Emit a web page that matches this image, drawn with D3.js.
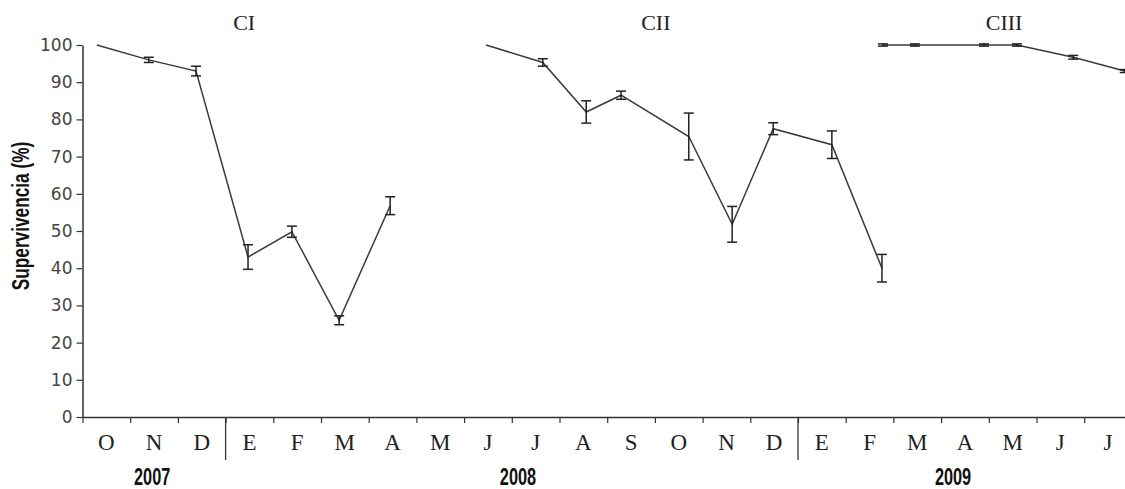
<!DOCTYPE html>
<html>
<head>
<meta charset="utf-8">
<script src="https://cdn.jsdelivr.net/npm/d3@7"></script>
<style>
  body { margin: 0; background: #fff; }
  svg { display: block; }
  .month { font-family: "Liberation Serif", "Times New Roman", serif; font-size: 23px; fill: #222; }
  .year { font-family: "Liberation Sans", Arial, sans-serif; font-weight: bold; font-size: 24px; fill: #111; }
  .ttl { font-family: "Liberation Serif", "Times New Roman", serif; font-size: 22px; fill: #222; }
  .ylab { font-family: "Liberation Sans", Arial, sans-serif; font-weight: bold; font-size: 23px; fill: #111; }
</style>
</head>
<body>
<div id="chart"></div>
<script>
var svgWidth = 1125;
var svgHeight = 489;

// month labels along the x axis (Oct 2007 .. Jul 2009)
var months = ["O", "N", "D", "E", "F", "M", "A", "M", "J", "J", "A", "S", "O", "N", "D", "E", "F", "M", "A", "M", "J", "J"];
var yearNames = ["2007", "2008", "2009"];
var yearAt = [0.96, 8.63, 17.75];      // month index under each year label
var yearBreaks = [3, 15];              // boundaries between years
var cycleNames = ["CI", "CII", "CIII"];
var cycleAt = [2.89, 11.52, 18.82];
var yTicks = [0, 10, 20, 30, 40, 50, 60, 70, 80, 90, 100];

// sampling time (month index), survival (%) and error
var ciX = [-0.2, 0.89, 1.88, 2.97, 3.89, 4.88, 5.95];
var ciY = [100, 96, 93, 43, 49.8, 26, 56.8];
var ciE = [0, 0.7, 1.3, 3.3, 1.5, 1.2, 2.4];

var ciiX = [7.96, 9.15, 10.06, 10.79, 12.21, 13.12, 13.98, 15.21, 16.26];
var ciiY = [100, 95.3, 82, 86.5, 75.4, 51.8, 77.5, 73.2, 40];
var ciiE = [0, 1, 3, 1.1, 6.3, 4.8, 1.6, 3.7, 3.7];

var ciiiX = [16.28, 16.95, 18.4, 19.09, 20.27, 21.35];
var ciiiY = [100, 100, 100, 100, 96.7, 93];
var ciiiE = [0.3, 0.3, 0.3, 0.3, 0.5, 0.4];

var left = 82.5, step = 47.7;
var y0 = 417, y100 = 45;

var svg = d3.select("#chart")
  .append("svg")
  .attr("width", svgWidth)
  .attr("height", svgHeight);

var x = d3.scaleLinear()
  .domain([-0.5, months.length - 0.5])
  .range([left, left + months.length * step]);

var y = d3.scaleLinear()
  .domain([0, 100])
  .range([y0, y100]);

// y axis
var yAxis = svg.append("g")
  .attr("transform", `translate(${left}, 0)`)
  .call(d3.axisLeft(y).tickValues(yTicks).tickSize(6).tickSizeOuter(0).tickPadding(4));
yAxis.select(".domain").attr("stroke", "#333").attr("stroke-width", 1.5);
yAxis.selectAll(".tick line").attr("stroke", "#333").attr("stroke-width", 1.2);
yAxis.selectAll("text")
  .attr("fill", "#444")
  .style("font-family", "'DejaVu Sans', sans-serif")
  .style("font-size", "17px");

// x axis: boundary ticks
var bounds = d3.range(0, months.length + 1).map(d => d - 0.5);
var xAxis = svg.append("g")
  .attr("transform", `translate(0, ${y0})`)
  .call(d3.axisBottom(x).tickValues(bounds).tickFormat("").tickSize(6).tickSizeOuter(0));
xAxis.select(".domain").attr("stroke", "#333").attr("stroke-width", 1.5);
xAxis.selectAll(".tick line").attr("stroke", "#333").attr("stroke-width", 1.2);

// year separators
svg.selectAll(".sep")
  .data(yearBreaks)
  .enter()
  .append("line")
  .attr("x1", d => x(d - 0.5))
  .attr("x2", d => x(d - 0.5))
  .attr("y1", y0)
  .attr("y2", y0 + 43)
  .attr("stroke", "#333")
  .attr("stroke-width", 1.3);

// month labels
svg.selectAll(".month")
  .data(months)
  .enter()
  .append("text")
  .attr("class", "month")
  .attr("x", (d, i) => x(i))
  .attr("y", 450)
  .attr("text-anchor", "middle")
  .text(d => d);

// condensed bold year labels
svg.selectAll(".year")
  .data(yearNames)
  .enter()
  .append("text")
  .attr("class", "year")
  .attr("transform", (d, i) => `translate(${x(yearAt[i])}, 485) scale(0.68, 1)`)
  .attr("text-anchor", "middle")
  .text(d => d);

svg.selectAll(".ttl")
  .data(cycleNames)
  .enter()
  .append("text")
  .attr("class", "ttl")
  .attr("x", (d, i) => x(cycleAt[i]))
  .attr("y", 30)
  .attr("text-anchor", "middle")
  .text(d => d);

svg.append("text")
  .attr("class", "ylab")
  .attr("transform", "translate(28.5, 216) rotate(-90) scale(0.75, 1)")
  .attr("text-anchor", "middle")
  .text("Supervivencia (%)");

// series
var line = d3.line()
  .x(d => x(d.t))
  .y(d => y(d.v));

function drawSeries(xs, ys, es) {
  var data = xs.map((t, i) => ({ t: t, v: ys[i], e: es[i] }));
  var g = svg.append("g");

  g.append("path")
    .datum(data)
    .attr("d", line)
    .attr("fill", "none")
    .attr("stroke", "#3a3a3a")
    .attr("stroke-width", 1.5);

  var bars = g.selectAll(".err")
    .data(data.filter(d => d.e > 0))
    .enter()
    .append("g")
    .attr("stroke", "#222")
    .attr("stroke-width", 1.5);

  bars.append("line")
    .attr("x1", d => x(d.t)).attr("x2", d => x(d.t))
    .attr("y1", d => y(d.v + d.e)).attr("y2", d => y(d.v - d.e));
  bars.append("line")
    .attr("x1", d => x(d.t) - 5).attr("x2", d => x(d.t) + 5)
    .attr("y1", d => y(d.v + d.e)).attr("y2", d => y(d.v + d.e));
  bars.append("line")
    .attr("x1", d => x(d.t) - 5).attr("x2", d => x(d.t) + 5)
    .attr("y1", d => y(d.v - d.e)).attr("y2", d => y(d.v - d.e));
}

drawSeries(ciX, ciY, ciE);
drawSeries(ciiX, ciiY, ciiE);
drawSeries(ciiiX, ciiiY, ciiiE);
</script>
</body>
</html>
